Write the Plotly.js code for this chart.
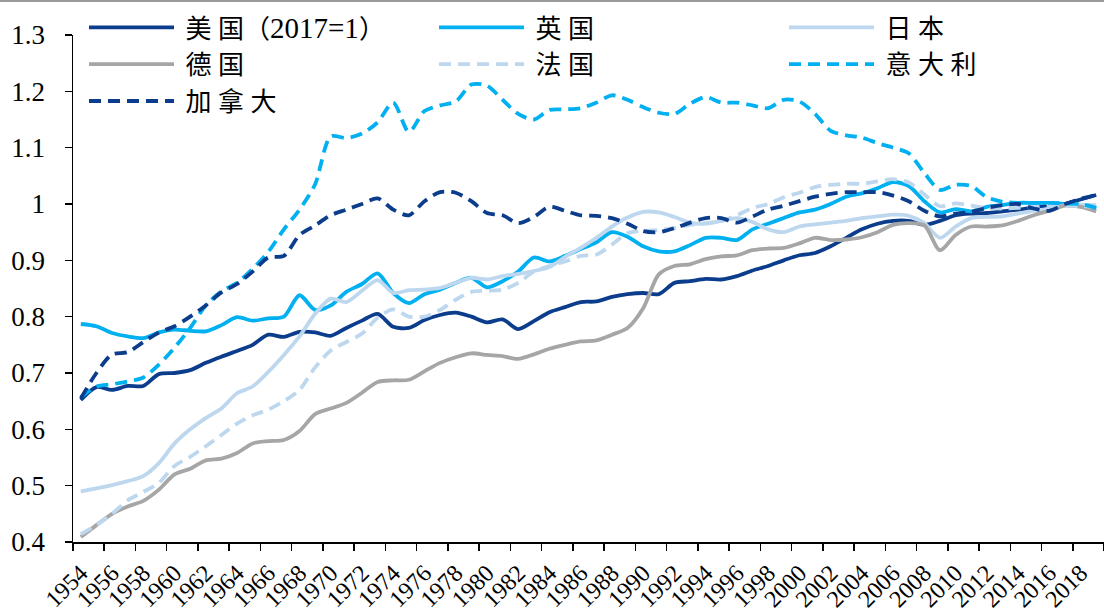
<!DOCTYPE html>
<html>
<head>
<meta charset="utf-8">
<script src="https://cdn.plot.ly/plotly-3.0.1.min.js"></script>
<style>html,body{margin:0;padding:0;background:#fff;}#chart{width:1104px;height:612px;}</style>
</head>
<body>
<div id="chart"></div>
<script>
const years = [1954,1955,1956,1957,1958,1959,1960,1961,1962,1963,1964,1965,1966,1967,1968,1969,1970,1971,1972,1973,1974,1975,1976,1977,1978,1979,1980,1981,1982,1983,1984,1985,1986,1987,1988,1989,1990,1991,1992,1993,1994,1995,1996,1997,1998,1999,2000,2001,2002,2003,2004,2005,2006,2007,2008,2009,2010,2011,2012,2013,2014,2015,2016,2017,2018,2019];

const usa = [0.652,0.675,0.670,0.677,0.677,0.698,0.700,0.705,0.718,0.729,0.739,0.750,0.768,0.764,0.773,0.772,0.766,0.780,0.793,0.805,0.782,0.780,0.794,0.803,0.807,0.800,0.790,0.795,0.778,0.792,0.808,0.817,0.826,0.827,0.835,0.840,0.842,0.840,0.860,0.863,0.867,0.866,0.872,0.882,0.890,0.900,0.909,0.913,0.925,0.940,0.955,0.965,0.970,0.970,0.963,0.970,0.980,0.983,0.984,0.987,0.990,0.994,0.997,1.000,1.008,1.016];
const uk = [0.787,0.783,0.771,0.765,0.762,0.772,0.777,0.775,0.774,0.785,0.799,0.793,0.797,0.800,0.838,0.812,0.820,0.844,0.858,0.877,0.842,0.824,0.840,0.848,0.860,0.869,0.852,0.863,0.880,0.905,0.898,0.908,0.920,0.932,0.950,0.942,0.925,0.916,0.916,0.927,0.940,0.940,0.936,0.955,0.965,0.975,0.985,0.990,1.000,1.013,1.019,1.028,1.039,1.032,1.005,0.985,0.991,0.987,0.995,0.998,1.002,1.002,1.002,1.000,0.996,0.992];
const japan = [0.490,0.495,0.501,0.508,0.517,0.540,0.575,0.600,0.620,0.637,0.664,0.676,0.702,0.732,0.765,0.805,0.832,0.826,0.846,0.865,0.842,0.847,0.848,0.851,0.860,0.869,0.866,0.872,0.876,0.881,0.888,0.906,0.922,0.940,0.960,0.976,0.986,0.985,0.977,0.967,0.965,0.970,0.975,0.968,0.955,0.950,0.960,0.964,0.967,0.970,0.975,0.978,0.981,0.979,0.966,0.940,0.960,0.975,0.977,0.978,0.983,0.988,0.992,0.998,0.999,0.998];
const germany = [0.409,0.430,0.450,0.463,0.473,0.493,0.520,0.530,0.545,0.548,0.558,0.575,0.579,0.581,0.597,0.627,0.637,0.647,0.665,0.684,0.687,0.688,0.703,0.718,0.728,0.735,0.732,0.730,0.725,0.733,0.743,0.750,0.756,0.758,0.768,0.780,0.815,0.875,0.890,0.893,0.902,0.907,0.909,0.918,0.921,0.922,0.930,0.940,0.936,0.937,0.941,0.950,0.963,0.966,0.962,0.918,0.945,0.960,0.960,0.962,0.970,0.980,0.988,0.997,0.995,0.987];
const france = [0.414,0.430,0.450,0.474,0.489,0.505,0.535,0.551,0.570,0.590,0.610,0.625,0.635,0.650,0.670,0.710,0.740,0.755,0.770,0.798,0.813,0.800,0.800,0.812,0.830,0.844,0.846,0.848,0.860,0.880,0.890,0.898,0.908,0.910,0.928,0.948,0.952,0.954,0.957,0.963,0.966,0.970,0.980,0.993,1.000,1.012,1.020,1.030,1.034,1.036,1.036,1.040,1.044,1.038,1.017,0.996,1.001,0.997,0.993,0.992,0.993,0.995,0.997,0.998,0.996,0.995];
const italy = [0.657,0.676,0.680,0.685,0.692,0.715,0.745,0.780,0.820,0.845,0.860,0.885,0.915,0.955,0.990,1.035,1.120,1.117,1.125,1.145,1.180,1.128,1.165,1.175,1.182,1.212,1.210,1.185,1.160,1.150,1.167,1.168,1.170,1.180,1.193,1.185,1.172,1.162,1.160,1.178,1.190,1.180,1.180,1.175,1.170,1.185,1.182,1.160,1.130,1.122,1.118,1.108,1.100,1.090,1.055,1.025,1.034,1.032,1.012,1.004,1.002,1.002,1.002,1.001,1.000,0.993];
const canada = [0.655,0.700,0.733,0.737,0.755,0.772,0.783,0.800,0.820,0.843,0.858,0.880,0.905,0.908,0.945,0.962,0.980,0.990,1.000,1.010,0.990,0.980,1.005,1.021,1.020,1.005,0.984,0.980,0.966,0.977,0.995,0.988,0.980,0.979,0.975,0.965,0.952,0.950,0.957,0.967,0.975,0.975,0.967,0.978,0.990,0.997,1.005,1.013,1.018,1.021,1.021,1.021,1.015,1.005,0.988,0.978,0.983,0.986,0.993,0.998,1.000,0.992,0.988,1.000,1.009,1.016];

const seriesNames = [' 美 国（<span style="font-size:29px">2017=1</span>）',' 英 国',' 日 本',' 德 国',' 法 国',' 意 大 利',' 加 拿 大'];
const tickYears = [1954,1956,1958,1960,1962,1964,1966,1968,1970,1972,1974,1976,1978,1980,1982,1984,1986,1988,1990,1992,1994,1996,1998,2000,2002,2004,2006,2008,2010,2012,2014,2016,2018];
const yTicks = [0.4,0.5,0.6,0.7,0.8,0.9,1.0,1.1,1.2,1.3];
const yTickText = ['0.4','0.5','0.6','0.7','0.8','0.9','1','1.1','1.2','1.3'];

const NAVY = '#0B3D8C', CYAN = '#00B0F0', LIGHT = '#BDD7EE', GRAY = '#A6A6A6';
const DASH = '12px,7px';
const W = 3.8;
const FONT = 'Liberation Serif, Noto Sans CJK SC';
const NUMFONT = 'Liberation Serif';

function tr(y, name, color, dash, legend, group) {
  return {
    x: years, y: y, name: name, type: 'scatter', mode: 'lines',
    line: {color: color, width: W, dash: dash, shape: 'spline', smoothing: 0.8},
    legend: legend, legendgroup: group, hoverinfo: 'x+y+name'
  };
}

const data = [
  tr(usa, seriesNames[0], NAVY, 'solid', 'legend', 'g1'),
  tr(uk, seriesNames[1], CYAN, 'solid', 'legend2', 'g2'),
  tr(japan, seriesNames[2], LIGHT, 'solid', 'legend3', 'g3'),
  tr(germany, seriesNames[3], GRAY, 'solid', 'legend', 'g4'),
  tr(france, seriesNames[4], LIGHT, DASH, 'legend2', 'g5'),
  tr(italy, seriesNames[5], CYAN, DASH, 'legend3', 'g6'),
  tr(canada, seriesNames[6], NAVY, DASH, 'legend', 'g7')
];

const L = 73, T = 35, B = 70, R = 0;
const plotW = 1104 - L - R, plotH = 612 - T - B;
function px2paperX(px) { return (px - L) / plotW; }
function px2paperY(py) { return (612 - B - py) / plotH; }

function legendCfg(px) {
  return {
    x: px2paperX(px), y: px2paperY(4), xanchor: 'left', yanchor: 'top',
    orientation: 'v', bgcolor: 'rgba(0,0,0,0)', borderwidth: 0,
    font: {family: FONT, size: 26, color: '#000'},
    itemwidth: 85, tracegroupgap: 4, traceorder: 'normal'
  };
}

const layout = {
  width: 1104, height: 612,
  margin: {l: L, r: R, t: T, b: B, pad: 0},
  paper_bgcolor: '#fff', plot_bgcolor: '#fff',
  showlegend: true,
  legend: legendCfg(84),
  legend2: legendCfg(434),
  legend3: legendCfg(784),
  xaxis: {
    range: [1953.5, 2019.5], showgrid: false, zeroline: false,
    showline: true, linecolor: '#000', linewidth: 1.5,
    tickmode: 'array', tickvals: tickYears, ticktext: tickYears.map(String),
    ticks: '', tickangle: -45, ticklabelstandoff: 6,
    tickfont: {family: NUMFONT, size: 24, color: '#000'},
    minor: {tickmode: 'array', tickvals: tickYears.map(v => v - 0.5).concat([2019.5]), ticks: 'outside', ticklen: 7, tickcolor: '#000', tickwidth: 1.5},
    fixedrange: true
  },
  yaxis: {
    range: [0.4, 1.3], showgrid: false, zeroline: false,
    showline: true, linecolor: '#000', linewidth: 1.5,
    tickmode: 'array', tickvals: yTicks, ticktext: yTickText,
    ticks: 'outside', ticklen: 7, tickcolor: '#000', tickwidth: 1.5,
    ticklabelstandoff: 14,
    tickfont: {family: NUMFONT, size: 27, color: '#000'},
    fixedrange: true
  },
  shapes: [{
    type: 'line', xref: 'paper', yref: 'paper',
    x0: px2paperX(0), x1: px2paperX(1104), y0: px2paperY(1), y1: px2paperY(1),
    line: {color: '#9a9a9a', width: 2}
  }]
};

Plotly.newPlot('chart', data, layout, {displayModeBar: false, staticPlot: true});
</script>
</body>
</html>
